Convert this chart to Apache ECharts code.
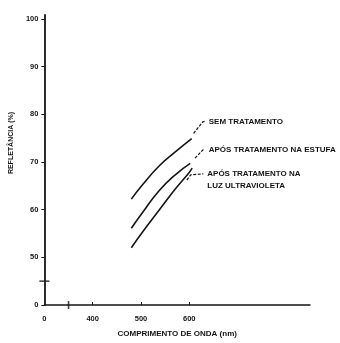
<!DOCTYPE html>
<html>
<head>
<meta charset="utf-8">
<script src="https://cdn.jsdelivr.net/npm/echarts@6/dist/echarts.min.js"></script>
<style>
  html, body { margin: 0; padding: 0; background: #fff; }
  #chart { width: 340px; height: 343px; }
</style>
</head>
<body>
<div id="chart"></div>
<script>
// reflectance (%) vs wavelength (nm)
const semTratamento = [[480, 62.2], [504, 65.3], [537, 69.1], [571, 72.1], [605, 74.9]];
const aposEstufa = [[480, 56.1], [504, 59.5], [537, 63.9], [571, 67.3], [602, 69.7]];
const aposUltravioleta = [[480, 52.0], [504, 55.4], [537, 59.8], [571, 64.3], [599, 67.7], [606, 68.7]];

// leader lines from curve ends to their captions
const leaderSem = [[609, 76.0], [628, 78.4], [632, 78.5]];
const leaderEstufa = [[612, 70.8], [628, 72.5], [632, 72.6]];
const leaderUv = [[595, 66.2], [603, 67.3], [629, 67.5]];

const labelSem = "SEM TRATAMENTO";
const labelEstufa = "APÓS TRATAMENTO NA ESTUFA";
const labelUv = "APÓS TRATAMENTO NA\nLUZ ULTRAVIOLETA";

const yTicks = [40, 50, 60, 70, 80, 90, 100];
const xLabelTicks = [300, 400, 500, 600];
const xTicks = [400, 500, 600];
const yBreak = [[300, 45]];
const xBreak = [[350, 40]];

const ink = "#151515";
const font = "Liberation Sans";

const chart = echarts.init(document.getElementById("chart"));

function curve(data) {
  return {
    type: "line",
    data: data,
    smooth: true,
    symbol: "none",
    lineStyle: { color: ink, width: 1.6 },
    z: 3,
  };
}

function leader(data, text, offset) {
  const last = data.length - 1;
  return {
    type: "line",
    symbol: "circle",
    symbolSize: 0,
    showSymbol: true,
    lineStyle: { color: ink, width: 1.2, type: [3, 1.5] },
    itemStyle: { color: ink },
    label: { show: false },
    data: data.map((d, i) => {
      if (i !== last) return d;
      return {
        value: d,
        label: {
          show: true,
          position: "right",
          distance: 4,
          offset: offset || [0, 0],
          formatter: text,
          color: ink,
          fontFamily: font,
          fontWeight: "bold",
          fontSize: 8,
          lineHeight: 12,
        },
      };
    }),
    z: 3,
  };
}

function breakMark(data, size) {
  return {
    type: "scatter",
    data: data,
    symbol: "rect",
    symbolSize: size,
    itemStyle: { color: ink },
    clip: false,
    z: 4,
  };
}

const option = {
  animation: false,
  backgroundColor: "#fff",
  grid: { left: 40, right: 30, top: 15, bottom: 31 },
  xAxis: {
    type: "value",
    min: 300,
    max: 850,
    name: "COMPRIMENTO DE ONDA (nm)",
    nameLocation: "middle",
    nameGap: 25,
    nameTextStyle: { color: ink, fontFamily: font, fontWeight: "bold", fontSize: 8 },
    axisLine: { lineStyle: { color: ink, width: 1.5 } },
    axisTick: { show: true, inside: true, length: 3, customValues: xTicks, lineStyle: { color: ink } },
    axisLabel: {
      customValues: xLabelTicks,
      margin: 10,
      color: ink,
      fontFamily: font,
      fontWeight: "bold",
      fontSize: 7.5,
      formatter: (v) => (v === 300 ? "0" : String(v)),
    },
    splitLine: { show: false },
  },
  yAxis: {
    type: "value",
    min: 40,
    max: 100.8,
    name: "REFLETÂNCIA (%)",
    nameLocation: "middle",
    nameGap: 25,
    nameRotate: 90,
    nameTextStyle: {
      color: ink,
      fontFamily: font,
      fontWeight: "bold",
      fontSize: 7,
      padding: [0, 0, 0, 34],
    },
    axisLine: { show: true, lineStyle: { color: ink, width: 1.8 } },
    axisTick: { show: true, length: 3, customValues: yTicks, lineStyle: { color: ink } },
    axisLabel: {
      customValues: yTicks,
      margin: 6,
      color: ink,
      fontFamily: font,
      fontWeight: "bold",
      fontSize: 7.5,
      formatter: (v) => (v === 40 ? "0" : String(v)),
    },
    splitLine: { show: false },
  },
  series: [
    curve(semTratamento),
    curve(aposEstufa),
    curve(aposUltravioleta),
    leader(leaderSem, labelSem),
    leader(leaderEstufa, labelEstufa),
    leader(leaderUv, labelUv, [0, 6]),
    // axis break marks
    breakMark(yBreak, [10, 1.6]),
    breakMark(xBreak, [1.6, 8]),
  ],
};

chart.setOption(option);
</script>
</body>
</html>
